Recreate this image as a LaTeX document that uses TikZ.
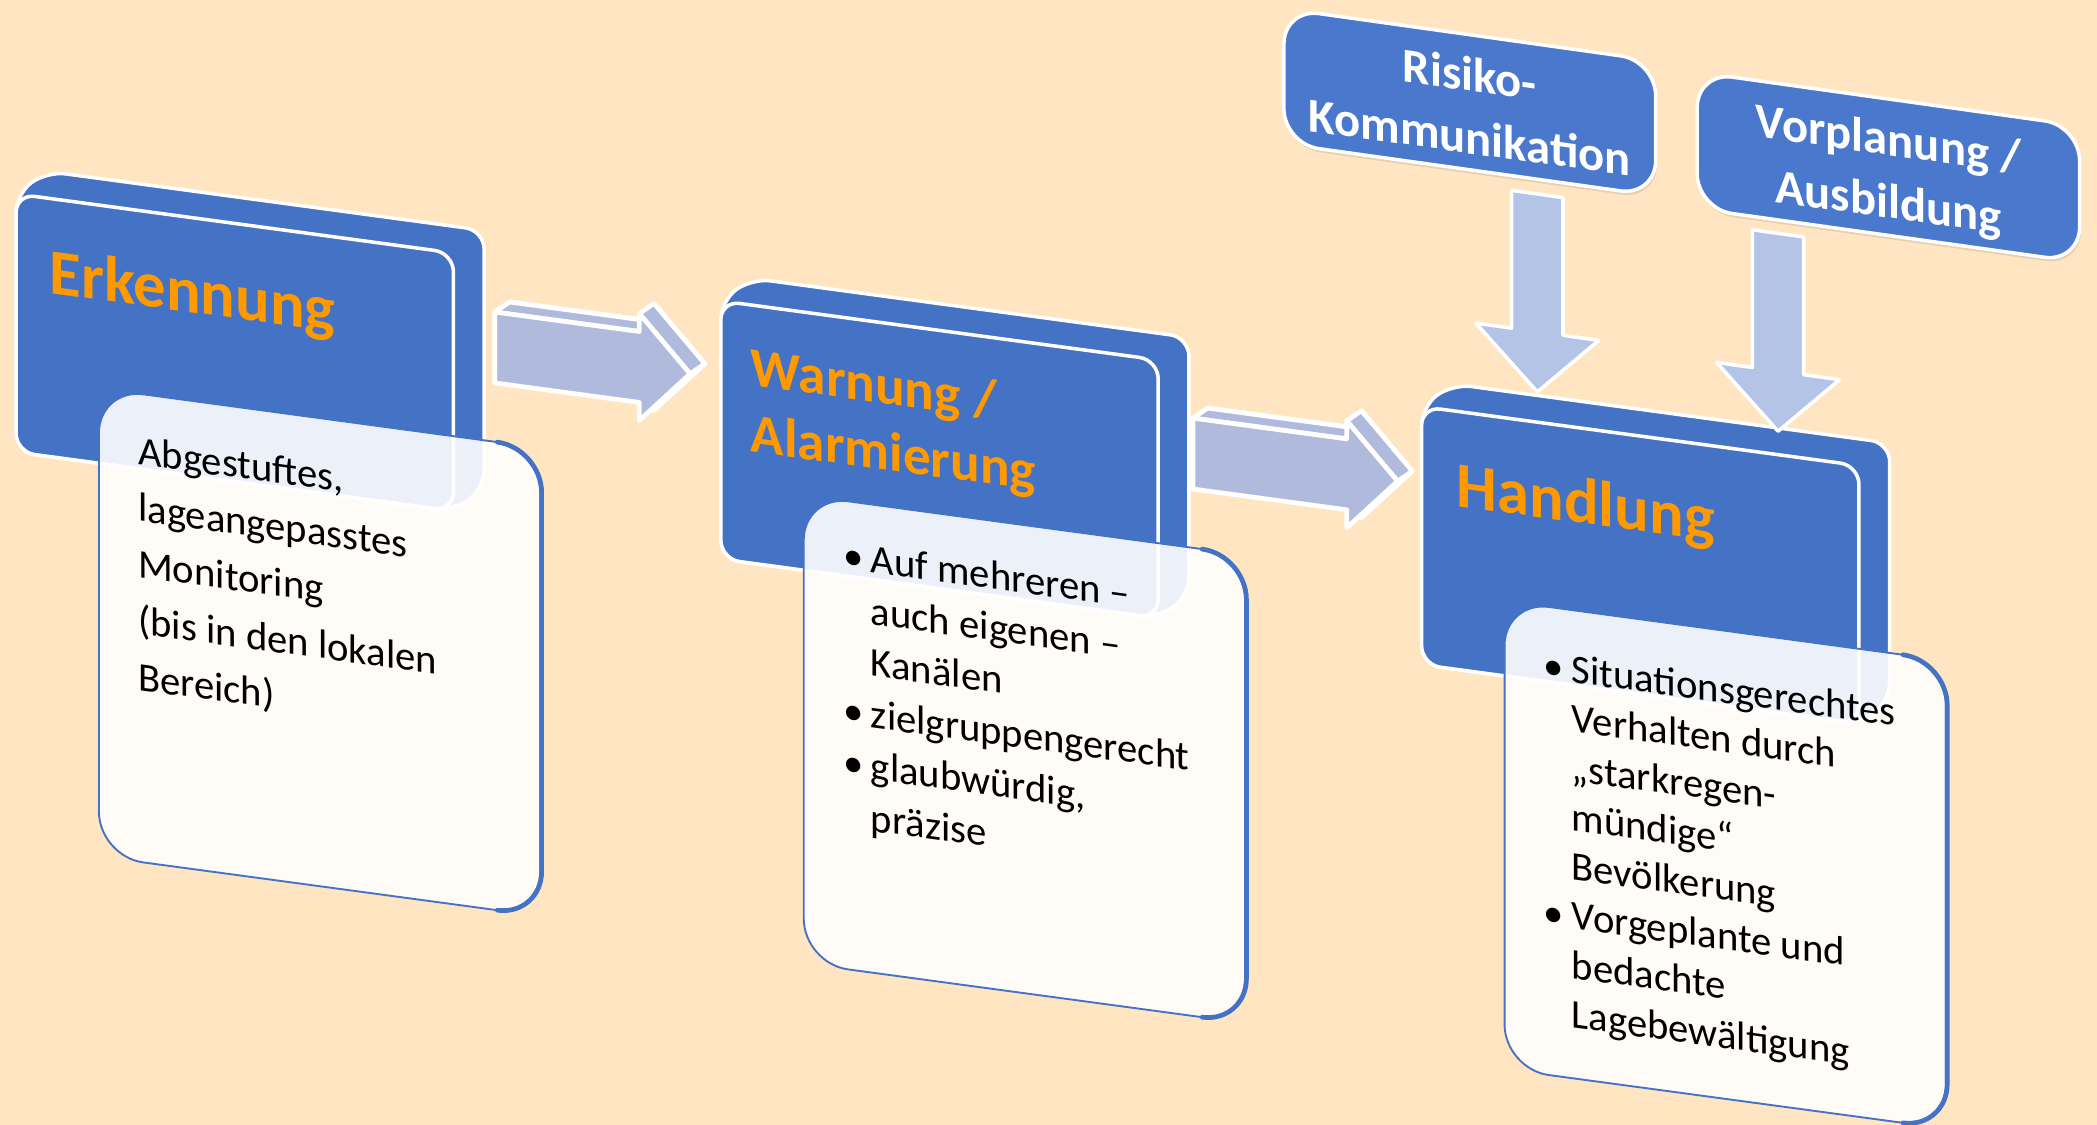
\documentclass[tikz,border=0pt]{standalone}
\usepackage{fontspec}
\setmainfont{Carlito}
\usepackage{tikz}
\usetikzlibrary{shadows}
\definecolor{bg}{HTML}{FFE5C1}
\definecolor{boxblue}{HTML}{4472C4}
\definecolor{topblue}{HTML}{4A78CC}
\definecolor{orange3}{HTML}{FF9900}
\definecolor{arrowblue}{HTML}{AFBADC}
\definecolor{downblue}{HTML}{B4C4E7}

\newcommand{\bul}{\makebox[11.9pt][l]{\textbullet}}
\newcommand{\ind}{\hspace*{11.9pt}}
\newcommand{\leftlines}[1]{\begin{tabular}[t]{@{}l@{}}#1\end{tabular}}
\newcommand{\centerlines}[1]{\begin{tabular}[t]{@{}c@{}}#1\end{tabular}}

\tikzset{
  frontface/.style={fill=boxblue, draw=white, line width=1.5pt, rounded corners=8pt},
  notebox/.style={fill=white, fill opacity=0.9, draw=boxblue, line width=0.8pt, rounded corners=19pt},
  noteedge/.style={draw=boxblue, line width=2pt, rounded corners=19pt},
  stagetitle/.style={font=\fontsize{27.5}{34}\selectfont\bfseries, text=orange3, anchor=base west, inner sep=0pt},
  notetext/.style={font=\fontsize{17.3}{22}\selectfont, anchor=base west, inner sep=0pt},
  arrowface/.style={fill=arrowblue, draw=white, line width=2pt},
  topbox/.style={fill=topblue, draw=white, line width=1.5pt, rounded corners=15pt,
    drop shadow={shadow xshift=0.6pt, shadow yshift=-1.6pt, opacity=0.2}},
  toptext/.style={font=\fontsize{20.7}{26.7}\selectfont\bfseries, text=white, anchor=base, inner sep=0pt},
  downarrow/.style={fill=downblue, draw=white, line width=1.5pt}
}

\begin{document}
\begin{tikzpicture}[x=0.02cm, y=-0.02cm, line join=round]

  \fill[bg] (0,0) rectangle (1568,841);
  \useasboundingbox (0,0) rectangle (1568,841);

  % Erkennung
  \begin{scope}[cm={1,-0.135,0,1,(12,145)}, transform shape]
    \draw[frontface] (0,0) -- (23,-20) -- (350,-20) -- (350,173) -- (327,193) -- (0,193) -- cycle;
    \draw[frontface] (0,0) rectangle (327,193);
    \node[stagetitle] (erkennung) at (25,71) {Erkennung};
    \draw[notebox] (62,137) rectangle (392,487);
    \draw[noteedge] (360,137) -- (393,137) -- (393,487) -- (360,487);
    \node[notetext, font=\fontsize{17.3}{24}\selectfont] (erktext) at (91,190) {\leftlines{Abgestuftes,\\lageangepasstes\\Monitoring\\(bis in den lokalen\\Bereich)}};
    % arrow to Warnung
    \begin{scope}[shift={(358,40)}]
      \draw[arrowface] (11,-9) -- (119,-9) -- (119,-22.5) -- (157,17.5) -- (119,57.5) -- (119,44) -- (11,44) -- cycle;
      \draw[arrowface] (0,0) -- (11,-9) -- (119,-9) -- (108,0) -- cycle;
      \draw[arrowface] (108,-13.5) -- (119,-22.5) -- (157,17.5) -- (146,26.5) -- cycle;
      \draw[arrowface] (0,0) -- (108,0) -- (108,-13.5) -- (146,26.5) -- (108,66.5) -- (108,53) -- (0,53) -- cycle;
    \end{scope}
  \end{scope}

  % Warnung / Alarmierung
  \begin{scope}[cm={1,-0.135,0,1,(539,225)}, transform shape]
    \draw[frontface] (0,0) -- (23,-20) -- (350,-20) -- (350,173) -- (327,193) -- (0,193) -- cycle;
    \draw[frontface] (0,0) rectangle (327,193);
    \node[stagetitle, font=\fontsize{23.5}{28.4}\selectfont\bfseries] (warnung) at (22,60) {\leftlines{Warnung /\\Alarmierung}};
    \draw[notebox] (62,137) rectangle (392,487);
    \draw[noteedge] (360,137) -- (393,137) -- (393,487) -- (360,487);
    \node[notetext] (warntext) at (91,188) {\leftlines{\bul Auf mehreren --\\\ind auch eigenen --\\\ind Kanälen\\\bul zielgruppengerecht\\\bul glaubwürdig,\\\ind präzise}};
    % arrow to Handlung
    \begin{scope}[shift={(353,40)}]
      \draw[arrowface] (11,-9) -- (126,-9) -- (126,-22.5) -- (164,17.5) -- (126,57.5) -- (126,44) -- (11,44) -- cycle;
      \draw[arrowface] (0,0) -- (11,-9) -- (126,-9) -- (115,0) -- cycle;
      \draw[arrowface] (115,-13.5) -- (126,-22.5) -- (164,17.5) -- (153,26.5) -- cycle;
      \draw[arrowface] (0,0) -- (115,0) -- (115,-13.5) -- (153,26.5) -- (115,66.5) -- (115,53) -- (0,53) -- cycle;
    \end{scope}
  \end{scope}

  % Handlung
  \begin{scope}[cm={1,-0.135,0,1,(1063,304)}, transform shape]
    \draw[frontface] (0,0) -- (23,-20) -- (350,-20) -- (350,173) -- (327,193) -- (0,193) -- cycle;
    \draw[frontface] (0,0) rectangle (327,193);
    \node[stagetitle] (handlung) at (26,71) {Handlung};
    \draw[notebox] (62,137) rectangle (392,487);
    \draw[noteedge] (360,137) -- (393,137) -- (393,487) -- (360,487);
    \node[notetext, font=\fontsize{17.3}{21}\selectfont] (handtext) at (91,191) {\leftlines{\bul Situationsgerechtes\\\ind Verhalten durch\\\ind „starkregen-\\\ind mündige“\\\ind Bevölkerung\\\bul Vorgeplante und\\\ind bedachte\\\ind Lagebewältigung}};
  \end{scope}

  % Risiko-Kommunikation
  \begin{scope}[cm={1,-0.14,0,1,(960,6.5)}, transform shape]
    \draw[topbox] (0,0) rectangle (278,101);
    \node[toptext] (risiko) at (139,42) {\centerlines{Risiko-\\Kommunikation}};
    \draw[downarrow] (170.3,112) -- (208.7,112) -- (208.7,215) -- (235.5,215) -- (189.5,260) -- (143.5,215) -- (170.3,215) -- cycle;
  \end{scope}

  % Vorplanung / Ausbildung
  \begin{scope}[cm={1,-0.14,0,1,(1269,54)}, transform shape]
    \draw[topbox] (0,0) rectangle (286,102);
    \node[toptext] (vorplanung) at (143,42) {\centerlines{Vorplanung /\\Ausbildung}};
    \draw[downarrow] (41.3,112) -- (79.7,112) -- (79.7,215) -- (106.5,215) -- (60.5,260) -- (14.5,215) -- (41.3,215) -- cycle;
  \end{scope}

\end{tikzpicture}
\end{document}
